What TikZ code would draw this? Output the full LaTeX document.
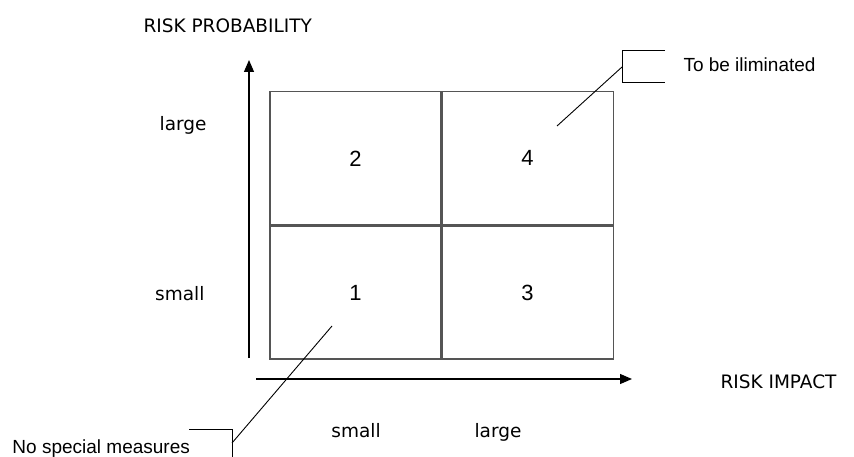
\documentclass[tikz,border=0pt]{standalone}
\usepackage{fontspec}
\setmainfont{DejaVu Sans}
\newfontfamily\notefont{Liberation Sans}
\usetikzlibrary{arrows.meta, positioning}
\definecolor{cgrid}{HTML}{555555}
\tikzset{
  every picture/.style={x=1pt, y=-1pt, line width=1pt},
  cell/.style={draw=cgrid, line width=1.1pt, minimum width=171pt, minimum height=133pt, inner sep=0pt, font=\notefont\fontsize{22}{26}\selectfont},
  axis/.style={-{Triangle[length=12pt, width=10pt]}, line width=1.2pt},
  leader/.style={draw=black, line width=0.9pt},
  lbl/.style={font=\fontsize{18.5}{22}\selectfont, inner sep=0pt},
  note/.style={font=\notefont\fontsize{19}{22}\selectfont, inner sep=0pt},
}

\begin{document}
\begin{tikzpicture}
  \useasboundingbox (0,0) rectangle (854,457);
  % risk matrix
  \node[cell] (c1) at (355.5,292.5) {1};
  \node[cell, above=0pt of c1] (c2) {2};
  \node[cell, right=0pt of c1] (c3) {3};
  \node[cell, above=0pt of c3] (c4) {4};
  % axes
  \coordinate (y0) at (249,358);
  \coordinate (y1) at (249,60);
  \coordinate (x0) at (256,379);
  \coordinate (x1) at (632,379);
  \draw[axis] (y0) -- (y1);
  \draw[axis] (x0) -- (x1);
  \node[lbl, anchor=base west] (ytitle) at (143,33) {RISK PROBABILITY};
  \node[lbl, anchor=base west] (xtitle) at (720,388) {RISK IMPACT};
  \node[lbl, anchor=base east] (ylarge) at (207,131) {large};
  \node[lbl, anchor=base east] (ysmall) at (205,300) {small};
  \node[lbl, anchor=base] (xsmall) at (356,437) {small};
  \node[lbl, anchor=base] (xlarge) at (498,437) {large};
  % callouts
  \node[note, anchor=base west] (elim) at (683,72) {To be iliminated};
  \coordinate (e1) at (665,50);
  \coordinate (e2) at (622,50);
  \coordinate (e3) at (622,82);
  \coordinate (e4) at (665,82);
  \coordinate (etip) at (622,67);
  \coordinate (eend) at (557,126);
  \draw[leader] (e1) -- (e2) -- (e3) -- (e4);
  \draw[leader] (etip) -- (eend);
  \node[note, anchor=base west] (nsm) at (12,453) {No special measures};
  \coordinate (n1) at (189,429);
  \coordinate (n2) at (232,429);
  \coordinate (n3) at (232,460);
  \coordinate (ntip) at (232,443);
  \coordinate (nend) at (332,326);
  \draw[leader] (n1) -- (n2) -- (n3);
  \draw[leader] (ntip) -- (nend);
\end{tikzpicture}
\end{document}
